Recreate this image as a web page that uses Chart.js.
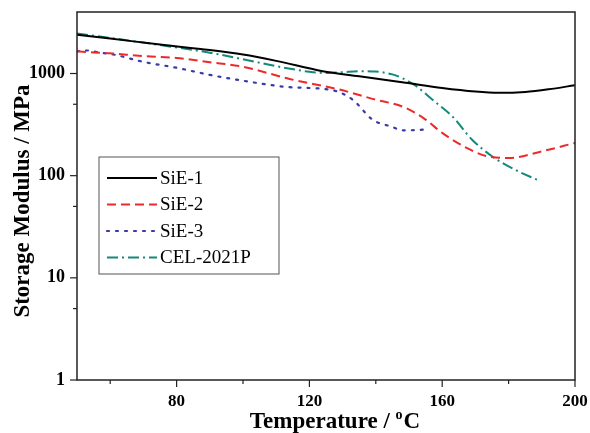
<!DOCTYPE html>
<html>
<head>
<meta charset="utf-8">
<script src="https://cdn.jsdelivr.net/npm/chart.js@4/dist/chart.umd.min.js"></script>
<style>
  html, body { margin: 0; padding: 0; background: #fff; }
  #wrap { width: 590px; height: 433px; }
</style>
</head>
<body>
<div id="wrap"><canvas id="dmaChart"></canvas></div>
<script>
// values (temperature in C, storage modulus in MPa)
const sie1Temp = [50, 60, 75, 90, 100, 110, 124, 135, 149, 160, 170, 177, 185, 192, 200];
const sie1Mod = [2400, 2200, 1920, 1700, 1535, 1330, 1054, 940, 811, 720, 665, 647, 660, 700, 768];

const sie2Temp = [50, 55, 60, 62, 70, 80, 90, 100, 114, 129, 139, 149, 155, 160, 167.5, 173.5, 180, 190, 200];
const sie2Mod = [1650, 1610, 1580, 1560, 1480, 1420, 1290, 1164, 885, 697, 565, 461, 354, 262, 186, 155, 149, 173, 209];

const sie3Temp = [50, 53, 57, 61, 70, 80, 90, 100, 114, 127, 133, 139, 145, 148, 154, 156];
const sie3Mod = [1650, 1680, 1600, 1535, 1300, 1138, 970, 850, 735, 686, 556, 354, 300, 278, 282, 295];

const celTemp = [50, 60, 75, 90, 100, 110, 120, 125, 130, 135, 140, 145, 148, 152, 157, 163, 169, 175, 182, 189];
const celMod = [2470, 2230, 1900, 1600, 1380, 1180, 1040, 1010, 1030, 1055, 1045, 980, 900, 760, 556, 382, 225, 155, 114, 90];

const seriesNames = ["SiE-1", "SiE-2", "SiE-3", "CEL-2021P"];

const xTicks = [60, 80, 100, 120, 140, 160, 180, 200];
const xLabelTicks = [80, 120, 160, 200];
const yTicks = [1, 5, 10, 50, 100, 500, 1000];
const yLabelTicks = [1, 10, 100, 1000];

function toPoints(temps, mods) {
  return temps.map((t, i) => ({ x: t, y: mods[i] }));
}

function noPadding(scale) {
  scale.paddingLeft = 0;
  scale.paddingRight = 0;
  scale.paddingTop = 0;
  scale.paddingBottom = 0;
}

// frame, tick marks, axis titles and the boxed legend
const framePlugin = {
  id: "framePlugin",
  afterDraw(chart) {
    const ctx = chart.ctx;
    const area = chart.chartArea;
    const xs = chart.scales.x;
    const ys = chart.scales.y;
    ctx.save();
    ctx.strokeStyle = "#222";
    ctx.lineWidth = 1.5;
    ctx.strokeRect(area.left, area.top, area.right - area.left, area.bottom - area.top);

    ctx.lineWidth = 1.2;
    xTicks.forEach(v => {
      const px = xs.getPixelForValue(v);
      const len = xLabelTicks.includes(v) ? 7 : 4;
      ctx.beginPath();
      ctx.moveTo(px, area.bottom);
      ctx.lineTo(px, area.bottom + len);
      ctx.stroke();
    });
    yTicks.forEach(v => {
      const py = ys.getPixelForValue(v);
      const len = yLabelTicks.includes(v) ? 7 : 4;
      ctx.beginPath();
      ctx.moveTo(area.left, py);
      ctx.lineTo(area.left - len, py);
      ctx.stroke();
    });

    // x title with the raised "o"
    ctx.fillStyle = "#000";
    ctx.textBaseline = "alphabetic";
    const bigFont = "bold 23px 'Liberation Serif', 'Times New Roman', serif";
    const smallFont = "bold 14px 'Liberation Serif', 'Times New Roman', serif";
    const part1 = "Temperature / ";
    ctx.font = bigFont;
    const w1 = ctx.measureText(part1).width;
    const w3 = ctx.measureText("C").width;
    ctx.font = smallFont;
    const w2 = ctx.measureText("o").width + 1;
    let x0 = 335 - (w1 + w2 + w3) / 2;
    const base = 428;
    ctx.font = bigFont;
    ctx.textAlign = "left";
    ctx.fillText(part1, x0, base);
    ctx.font = smallFont;
    ctx.fillText("o", x0 + w1, base - 9);
    ctx.font = bigFont;
    ctx.fillText("C", x0 + w1 + w2, base);

    // y title
    ctx.save();
    ctx.translate(29, 201);
    ctx.rotate(-Math.PI / 2);
    ctx.textAlign = "center";
    ctx.font = bigFont;
    ctx.fillText("Storage Modulus / MPa", 0, 0);
    ctx.restore();

    // legend box
    const lx = 99, ly = 157, lw = 180, lh = 117;
    ctx.fillStyle = "#fff";
    ctx.fillRect(lx, ly, lw, lh);
    ctx.strokeStyle = "#555";
    ctx.lineWidth = 1;
    ctx.strokeRect(lx, ly, lw, lh);
    ctx.font = "19px 'Liberation Serif', 'Times New Roman', serif";
    ctx.textBaseline = "middle";
    chart.data.datasets.forEach((ds, i) => {
      const yy = ly + 21 + i * 26.5;
      ctx.strokeStyle = ds.borderColor;
      ctx.lineWidth = ds.borderWidth;
      ctx.setLineDash(ds.borderDash || []);
      ctx.lineCap = ds.borderCapStyle || "butt";
      ctx.beginPath();
      ctx.moveTo(107, yy);
      ctx.lineTo(157, yy);
      ctx.stroke();
      ctx.setLineDash([]);
      ctx.fillStyle = "#000";
      ctx.fillText(ds.label, 160, yy + 1);
    });
    ctx.restore();
  }
};

const lineBase = {
  fill: false,
  pointRadius: 0,
  borderWidth: 2,
  cubicInterpolationMode: "monotone"
};

new Chart(document.getElementById("dmaChart"), {
  type: "line",
  data: {
    datasets: [
      { ...lineBase, label: seriesNames[0], data: toPoints(sie1Temp, sie1Mod), borderColor: "#000000" },
      { ...lineBase, label: seriesNames[1], data: toPoints(sie2Temp, sie2Mod), borderColor: "#ec2a2a", borderDash: [9, 5] },
      { ...lineBase, label: seriesNames[2], data: toPoints(sie3Temp, sie3Mod), borderColor: "#3a3aa8", borderDash: [2, 7], borderCapStyle: "round", borderWidth: 2.2 },
      { ...lineBase, label: seriesNames[3], data: toPoints(celTemp, celMod), borderColor: "#12897a", borderDash: [11, 4, 2, 4] }
    ]
  },
  options: {
    responsive: true,
    maintainAspectRatio: false,
    animation: false,
    layout: { padding: { top: 12, right: 15, left: 0, bottom: 0 } },
    plugins: {
      legend: { display: false },
      tooltip: { enabled: false }
    },
    scales: {
      x: {
        type: "linear",
        min: 50,
        max: 200,
        grid: { display: false, drawTicks: false },
        border: { display: false },
        afterBuildTicks: scale => { scale.ticks = xTicks.map(v => ({ value: v })); },
        afterFit: scale => { scale.height = 53; noPadding(scale); },
        ticks: {
          padding: 11,
          maxRotation: 0,
          autoSkip: false,
          color: "#000",
          font: { family: "'Liberation Serif', 'Times New Roman', serif", size: 17, weight: "bold" },
          callback: v => (xLabelTicks.includes(v) ? String(v) : "")
        }
      },
      y: {
        type: "logarithmic",
        min: 1,
        max: 4000,
        grid: { display: false, drawTicks: false },
        border: { display: false },
        afterBuildTicks: scale => { scale.ticks = yTicks.map(v => ({ value: v })); },
        afterFit: scale => { scale.width = 77; noPadding(scale); },
        ticks: {
          padding: 12,
          autoSkip: false,
          color: "#000",
          font: { family: "'Liberation Serif', 'Times New Roman', serif", size: 18, weight: "bold" },
          callback: v => (yLabelTicks.includes(v) ? String(v) : "")
        }
      }
    }
  },
  plugins: [framePlugin]
});
</script>
</body>
</html>
